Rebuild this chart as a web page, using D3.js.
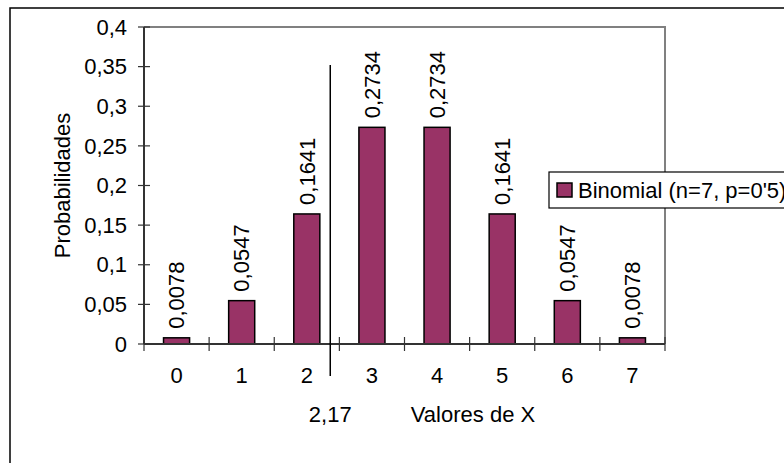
<!DOCTYPE html>
<html>
<head>
<meta charset="utf-8">
<script src="https://cdn.jsdelivr.net/npm/d3@7"></script>
<style>
  body { margin: 0; background: #fff; }
  svg { display: block; font-family: "Liberation Sans", Arial, sans-serif; }
</style>
</head>
<body>
<div id="chart"></div>
<script>
const categories = ['0', '1', '2', '3', '4', '5', '6', '7'];
const probabilities = [0.0078, 0.0547, 0.1641, 0.2734, 0.2734, 0.1641, 0.0547, 0.0078];
const yTicks = [0, 0.05, 0.1, 0.15, 0.2, 0.25, 0.3, 0.35, 0.4];
const meanLabel = '2,17';
const meanLinePos = 2.36; // where the marker line sits, in category units
const seriesName = "Binomial (n=7, p=0'5)";

const width = 784;
const height = 463;
const margin = {top: 27, right: 119, bottom: 119, left: 144};
const fontSize = 22;
const barColor = '#993366';

const fmt = v => String(v).replace('.', ',');

const svg = d3.select('#chart').append('svg')
    .attr('width', width)
    .attr('height', height);

// outer chart border (runs off the right/bottom edges)
svg.append('rect')
    .attr('x', 10).attr('y', 8)
    .attr('width', width + 20).attr('height', height + 20)
    .attr('fill', 'none')
    .attr('stroke', '#000')
    .attr('stroke-width', 1.5);

const x = d3.scaleBand()
    .domain(categories)
    .range([margin.left, width - margin.right])
    .paddingInner(0.6)
    .paddingOuter(0.3);

const xEdges = d3.scaleLinear()
    .domain([0, categories.length])
    .range([margin.left, width - margin.right]);

const xPos = d3.scaleLinear()
    .domain([-0.5, categories.length - 0.5])
    .range([margin.left, width - margin.right]);

const y = d3.scaleLinear()
    .domain([0, 0.4])
    .range([height - margin.bottom, margin.top]);

// plot frame (top + right, gray)
svg.append('path')
    .attr('d', `M${margin.left},${y(0.4)}H${width - margin.right}V${y(0)}`)
    .attr('fill', 'none')
    .attr('stroke', '#808080')
    .attr('stroke-width', 2);

// bars
svg.selectAll('.bar')
    .data(probabilities)
    .join('rect')
        .attr('class', 'bar')
        .attr('x', (d, i) => x(categories[i]))
        .attr('y', d => y(d))
        .attr('width', x.bandwidth())
        .attr('height', d => y(0) - y(d))
        .attr('fill', barColor)
        .attr('stroke', '#000')
        .attr('stroke-width', 1.5);

// value labels, rotated
svg.selectAll('.val')
    .data(probabilities)
    .join('text')
        .attr('class', 'val')
        .attr('transform', (d, i) => `translate(${x(categories[i]) + x.bandwidth() / 2}, ${y(d) - 9}) rotate(-90)`)
        .attr('dy', '0.35em')
        .attr('font-size', fontSize)
        .attr('text-anchor', 'start')
        .text(d => fmt(d));

// y axis
const yAxis = svg.append('g');
yAxis.append('line')
    .attr('x1', margin.left).attr('x2', margin.left)
    .attr('y1', y(0.4)).attr('y2', y(0))
    .attr('stroke', '#333').attr('stroke-width', 2);
yAxis.selectAll('.ytick')
    .data(yTicks)
    .join('line')
        .attr('x1', margin.left - 6).attr('x2', margin.left + 6)
        .attr('y1', d => y(d)).attr('y2', d => y(d))
        .attr('stroke', '#333').attr('stroke-width', 1.2);
yAxis.selectAll('.ylab')
    .data(yTicks)
    .join('text')
        .attr('x', margin.left - 17)
        .attr('y', d => y(d))
        .attr('dy', '0.35em')
        .attr('text-anchor', 'end')
        .attr('font-size', fontSize)
        .text(d => fmt(d));

// x axis
const xAxis = svg.append('g');
xAxis.append('line')
    .attr('x1', margin.left).attr('x2', width - margin.right)
    .attr('y1', y(0)).attr('y2', y(0))
    .attr('stroke', '#333').attr('stroke-width', 2);
xAxis.selectAll('.xtick')
    .data(d3.range(categories.length + 1))
    .join('line')
        .attr('x1', d => xEdges(d)).attr('x2', d => xEdges(d))
        .attr('y1', y(0) - 7).attr('y2', y(0) + 7)
        .attr('stroke', '#333').attr('stroke-width', 1.2);
xAxis.selectAll('.xlab')
    .data(categories)
    .join('text')
        .attr('x', d => x(d) + x.bandwidth() / 2)
        .attr('y', y(0) + 39)
        .attr('text-anchor', 'middle')
        .attr('font-size', fontSize)
        .text(d => d);

// mean marker line
svg.append('line')
    .attr('x1', xPos(meanLinePos)).attr('x2', xPos(meanLinePos))
    .attr('y1', 65).attr('y2', y(0) + 32)
    .attr('stroke', '#000').attr('stroke-width', 1.5);
svg.append('text')
    .attr('x', xPos(meanLinePos))
    .attr('y', y(0) + 78)
    .attr('text-anchor', 'middle')
    .attr('font-size', fontSize)
    .text(meanLabel);

// axis titles
svg.append('text')
    .attr('x', 473)
    .attr('y', y(0) + 78)
    .attr('text-anchor', 'middle')
    .attr('font-size', fontSize)
    .text('Valores de X');

svg.append('text')
    .attr('transform', `translate(62, ${(y(0.4) + y(0)) / 2}) rotate(-90)`)
    .attr('dy', '0.35em')
    .attr('text-anchor', 'middle')
    .attr('font-size', fontSize)
    .text('Probabilidades');

// legend
const legend = svg.append('g').attr('transform', 'translate(549, 172)');
legend.append('rect')
    .attr('width', 260).attr('height', 36)
    .attr('fill', '#fff')
    .attr('stroke', '#000').attr('stroke-width', 1.2);
legend.append('rect')
    .attr('x', 8).attr('y', 11)
    .attr('width', 15).attr('height', 14)
    .attr('fill', barColor)
    .attr('stroke', '#000').attr('stroke-width', 1.5);
legend.append('text')
    .attr('x', 29).attr('y', 18)
    .attr('dy', '0.35em')
    .attr('font-size', fontSize)
    .text(seriesName);
</script>
</body>
</html>
